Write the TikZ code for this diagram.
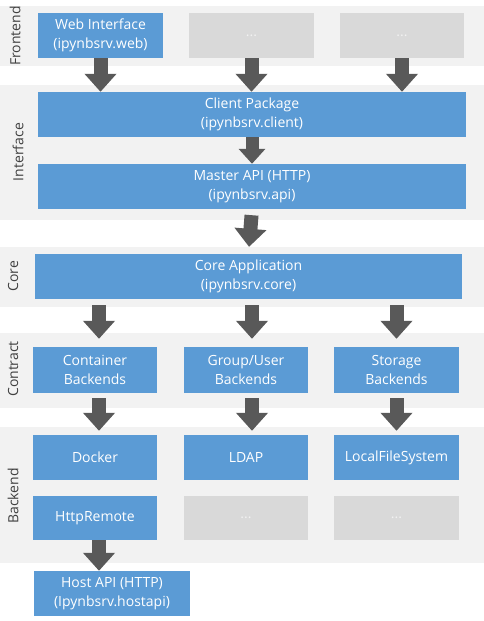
\documentclass[tikz,border=0pt]{standalone}
\usepackage{fontspec}
\setmainfont{Open Sans}
\usetikzlibrary{arrows.meta}
\definecolor{boxblue}{HTML}{5B9BD5}
\definecolor{bandgray}{HTML}{F2F2F2}
\definecolor{blankgray}{HTML}{D9D9D9}
\definecolor{arrowgray}{HTML}{595959}
\definecolor{labelgray}{HTML}{404040}
\tikzset{
  band/.style={fill=bandgray},
  comp/.style={fill=boxblue, text=white, align=center, inner sep=0pt,
    font=\fontsize{14}{19}\selectfont},
  blank/.style={comp, fill=blankgray, text=bandgray},
  layer/.style={rotate=90, text=labelgray, inner sep=0pt,
    font=\fontsize{14}{19}\selectfont},
  bigarrow/.style={draw=arrowgray, line width=14pt,
    -{Triangle[width=31pt,length=18pt]}},
}
\begin{document}
\begin{tikzpicture}[x=1pt,y=-1pt]
\useasboundingbox (0,0) rectangle (484,621);
% layer bands
\fill[band] (0,6) rectangle (484,66);
\fill[band] (0,85) rectangle (484,220);
\fill[band] (0,247) rectangle (484,307);
\fill[band] (0,333) rectangle (484,408);
\fill[band] (0,427) rectangle (484,563);
% layer names
\node[layer] (lfront) at (15,36) {Frontend};
\node[layer] (linter) at (18,152) {Interface};
\node[layer] (lcore) at (13,276) {Core};
\node[layer] (lcontract) at (13,369) {Contract};
\node[layer] (lbackend) at (13,496) {Backend};
% frontend
\node[comp, minimum width=125, minimum height=45] (web) at (100.5,35.5) {Web Interface\\(ipynbsrv.web)};
\node[blank, minimum width=125, minimum height=45] (fe2) at (251.5,35.5) {...};
\node[blank, minimum width=124, minimum height=45] (fe3) at (402,35.5) {...};
% interface
\node[comp, minimum width=428, minimum height=45] (client) at (252,114.5) {Client Package\\(ipynbsrv.client)};
\node[comp, minimum width=428, minimum height=45] (api) at (252,186.5) {Master API (HTTP)\\(ipynbsrv.api)};
% core
\node[comp, minimum width=427, minimum height=45] (core) at (248.5,276.5) {Core Application\\(ipynbsrv.core)};
% contract
\node[comp, minimum width=124, minimum height=46] (cont) at (95,370) {Container\\Backends};
\node[comp, minimum width=124, minimum height=46] (group) at (246,370) {Group/User\\Backends};
\node[comp, minimum width=125, minimum height=46] (storage) at (396.5,370) {Storage\\Backends};
% backend
\node[comp, minimum width=124, minimum height=45] (docker) at (95,457.5) {Docker};
\node[comp, minimum width=124, minimum height=45] (ldap) at (246,457.5) {LDAP};
\node[comp, minimum width=125, minimum height=45] (localfs) at (396.5,457.5) {LocalFileSystem};
\node[comp, minimum width=124, minimum height=44] (http) at (95,518) {HttpRemote};
\node[blank, minimum width=124, minimum height=44] (be2) at (246,518) {...};
\node[blank, minimum width=125, minimum height=44] (be3) at (396.5,518) {...};
\node[comp, minimum width=156, minimum height=45] (host) at (112,593.5) {Host API (HTTP)\\(Ipynbsrv.hostapi)};
% arrows
\foreach \n in {web,fe2,fe3}
  \draw[bigarrow] (\n.south) -- (\n.south |- client.north);
\draw[bigarrow, line width=13pt, -{Triangle[width=26pt,length=15pt]}] (client.south) -- (api.north);
\draw[bigarrow, shorten <=6pt, shorten >=7pt] (api.south) -- (core.north);
\foreach \n/\dx in {cont/4,group/6,storage/0}
  \draw[bigarrow, shorten <=6pt, shorten >=8pt] ([xshift=\dx pt]\n.north |- core.south) -- ([xshift=\dx pt]\n.north);
\foreach \a/\b/\dx in {cont/docker/4,group/ldap/6,storage/localfs/0}
  \draw[bigarrow, shorten <=5pt, shorten >=4pt] ([xshift=\dx pt]\a.south) -- ([xshift=\dx pt]\b.north);
\draw[bigarrow] ([xshift=4pt]http.south) -- ([xshift=4pt]http.south |- host.north);
\end{tikzpicture}
\end{document}
